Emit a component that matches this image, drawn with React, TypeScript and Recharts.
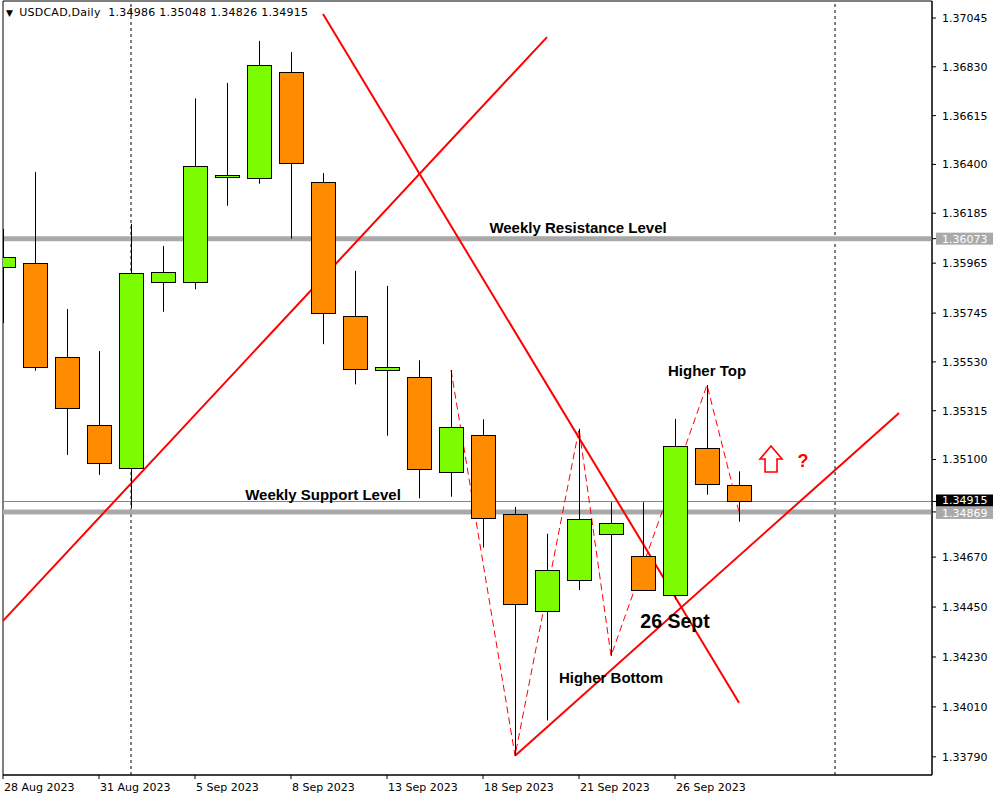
import React from "react";
import {
  Bar,
  ComposedChart,
  Line,
  ReferenceArea,
  ReferenceDot,
  ReferenceLine,
  XAxis,
  YAxis,
} from "recharts";

// USDCAD daily bars, 28 Aug – 28 Sep 2023
const DATES = [
  "28 Aug", "29 Aug", "30 Aug", "31 Aug", "1 Sep", "4 Sep", "5 Sep", "6 Sep",
  "7 Sep", "8 Sep", "11 Sep", "12 Sep", "13 Sep", "14 Sep", "15 Sep", "18 Sep",
  "19 Sep", "20 Sep", "21 Sep", "22 Sep", "25 Sep", "26 Sep", "27 Sep", "28 Sep",
];
const OPEN = [
  1.35947, 1.35964, 1.3555, 1.35251, 1.35061, 1.35881, 1.35881, 1.36343,
  1.36339, 1.36806, 1.36321, 1.35732, 1.35493, 1.35462, 1.35044, 1.35207,
  1.34859, 1.34432, 1.34568, 1.34771, 1.34674, 1.34502, 1.3515, 1.34986,
];
const HIGH = [
  1.36116, 1.36367, 1.35763, 1.35578, 1.36138, 1.36041, 1.36691, 1.36759,
  1.36944, 1.36895, 1.36362, 1.35931, 1.35865, 1.35537, 1.35494, 1.35277,
  1.34891, 1.34773, 1.35235, 1.34912, 1.34912, 1.35279, 1.35428, 1.35048,
];
const LOW = [
  1.35701, 1.35491, 1.3512, 1.35032, 1.34887, 1.35751, 1.3585, 1.36218,
  1.36315, 1.36073, 1.35608, 1.35431, 1.35205, 1.34929, 1.34936, 1.34712,
  1.33795, 1.3395, 1.34525, 1.34235, 1.34521, 1.34484, 1.34945, 1.34826,
];
const CLOSE = [
  1.35991, 1.35506, 1.35326, 1.35083, 1.3592, 1.35927, 1.36392, 1.36352,
  1.36837, 1.36405, 1.35744, 1.35498, 1.35506, 1.35057, 1.35242, 1.34841,
  1.34462, 1.34612, 1.34837, 1.34819, 1.34524, 1.35158, 1.34991, 1.34915,
];

// dashed swing zigzag (bar index -> price)
const ZIG_AT = [14, 16, 18, 19, 22, 23];
const ZIG_PRICE = [1.35494, 1.33795, 1.35235, 1.34235, 1.35428, 1.34869];

// hand-drawn trend lines: [bar index, price] start / end
const TREND_START = [[0, 1.34389], [10, 1.37063], [16, 1.33795]];
const TREND_END = [[17, 1.36961], [23, 1.34028], [28, 1.35305]];

const RESISTANCE = 1.36073;
const SUPPORT = 1.34869;
const LAST = 1.34915;
const SEPARATORS = [4, 26];

const X_TICKS = [0, 3, 6, 9, 12, 15, 18, 21];
const Y_TICKS = [
  1.37045, 1.3683, 1.36615, 1.364, 1.36185, 1.36073, 1.35965, 1.35745, 1.3553,
  1.35315, 1.351, 1.34915, 1.34869, 1.3467, 1.3445, 1.3423, 1.3401, 1.3379,
];
const X_DOMAIN = [0, 29.03];
const Y_DOMAIN = [1.3371, 1.3712];

const GREEN = "#7CFC00";
const ORANGE = "#FF8C00";
const RED = "#FF0000";
const LEVEL = "#A9A9A9";
const AXIS_FONT = "'DejaVu Sans', Verdana, sans-serif";
const NOTE_FONT = "'Liberation Sans', Arial, sans-serif";

const rows = DATES.map((date, i) => {
  const z = ZIG_AT.indexOf(i);
  return {
    i,
    date,
    open: OPEN[i],
    high: HIGH[i],
    low: LOW[i],
    close: CLOSE[i],
    range: [LOW[i], HIGH[i]],
    zig: z >= 0 ? ZIG_PRICE[z] : null,
  };
});

function Candle(props: any) {
  const { x, y, width, height } = props;
  const d = props.payload;
  if (!d || x == null || y == null) return null;
  const top = Math.min(y, y + height);
  const h = Math.abs(height);
  const span = d.high - d.low || 1;
  const py = (p: number) => top + ((d.high - p) / span) * h;
  const cx = Math.round(x + width / 2);
  const yo = py(d.open);
  const yc = py(d.close);
  const bTop = Math.round(Math.min(yo, yc)) + 0.5;
  const bH = Math.max(Math.round(Math.abs(yo - yc)), 2);
  return (
    <g>
      <line x1={cx + 0.5} x2={cx + 0.5} y1={top} y2={top + h} stroke="#000" strokeWidth={1} />
      <rect
        x={cx - 11.5}
        y={bTop}
        width={24}
        height={bH}
        fill={d.close >= d.open ? GREEN : ORANGE}
        stroke="#000"
        strokeWidth={1}
      />
    </g>
  );
}

// price scale labels; level / last-price values get a filled tag
function PriceTick(props: any) {
  const { x, payload } = props;
  const v = payload.value as number;
  const txt = v.toFixed(5);
  let y = props.y;
  let tag: string | null = null;
  if (v === RESISTANCE) tag = LEVEL;
  if (v === SUPPORT) {
    tag = LEVEL;
    y += 1;
  }
  if (v === LAST) {
    tag = "#000";
    y -= 1;
  }
  if (tag) {
    return (
      <g>
        <rect x={x - 6} y={y - 6} width={57} height={12} fill={tag} />
        <text x={x} y={y + 4} fontSize={11} fontFamily={AXIS_FONT} fill="#fff">
          {txt}
        </text>
      </g>
    );
  }
  return (
    <text x={x} y={y + 4} fontSize={11} fontFamily={AXIS_FONT} fill="#000">
      {txt}
    </text>
  );
}

function DateTick(props: any) {
  const { x, y, payload } = props;
  return (
    <text x={x + 1} y={y + 10} fontSize={11} fontFamily={AXIS_FONT} fill="#000">
      {DATES[payload.value] + " 2023"}
    </text>
  );
}

function note(text: string, size = 15, color = "#000") {
  return (p: any) => (
    <text
      x={p.cx}
      y={p.cy}
      textAnchor="middle"
      dominantBaseline="central"
      fontFamily={NOTE_FONT}
      fontWeight="bold"
      fontSize={size}
      fill={color}
    >
      {text}
    </text>
  );
}

function UpArrow(p: any) {
  const { cx, cy } = p;
  const pts = [
    [0, -13], [11, 0], [6, 0], [6, 13], [-6, 13], [-6, 0], [-11, 0],
  ]
    .map(([dx, dy]) => `${cx + dx},${cy + dy}`)
    .join(" ");
  return <polygon points={pts} fill="#fff" stroke={RED} strokeWidth={1.6} />;
}

export default function App() {
  return (
    <div
      style={{
        position: "absolute",
        left: 0,
        top: 0,
        width: 1000,
        height: 800,
        background: "#fff",
      }}
    >
      <ComposedChart
        width={1000}
        height={800}
        data={rows}
        margin={{ top: 1, right: 4, bottom: 3, left: 3 }}
      >
        <XAxis
          dataKey="i"
          type="number"
          domain={X_DOMAIN}
          allowDataOverflow
          ticks={X_TICKS}
          interval={0}
          height={22}
          tickSize={4}
          tickMargin={2}
          axisLine={{ stroke: "#000" }}
          tickLine={{ stroke: "#000" }}
          tick={<DateTick />}
        />
        <YAxis
          orientation="right"
          type="number"
          domain={Y_DOMAIN}
          allowDataOverflow
          ticks={Y_TICKS}
          interval={0}
          width={64}
          tickSize={4}
          tickMargin={6}
          axisLine={{ stroke: "#000" }}
          tickLine={{ stroke: "#000" }}
          tick={<PriceTick />}
        />
        <ReferenceArea
          x1={X_DOMAIN[0]}
          x2={X_DOMAIN[1]}
          y1={Y_DOMAIN[0]}
          y2={Y_DOMAIN[1]}
          fill="none"
          stroke="#000"
          fillOpacity={0}
          zIndex={50}
        />
        {SEPARATORS.map((s) => (
          <ReferenceLine key={"sep" + s} x={s} stroke="#000" strokeDasharray="3 3" zIndex={60} />
        ))}
        <ReferenceLine y={RESISTANCE} stroke={LEVEL} strokeWidth={5} zIndex={70} />
        <ReferenceLine y={SUPPORT} stroke={LEVEL} strokeWidth={5} zIndex={70} />
        <ReferenceLine y={LAST} stroke="#778899" strokeWidth={1} zIndex={80} />
        {TREND_START.map((s, k) => (
          <ReferenceLine
            key={"tr" + k}
            segment={[
              { x: s[0], y: s[1] },
              { x: TREND_END[k][0], y: TREND_END[k][1] },
            ]}
            stroke={RED}
            strokeWidth={2}
            zIndex={90}
          />
        ))}
        <Line
          dataKey="zig"
          connectNulls
          stroke={RED}
          strokeWidth={1}
          strokeDasharray="7 4"
          dot={false}
          activeDot={false}
          isAnimationActive={false}
          zIndex={95}
        />
        <Bar
          dataKey="range"
          shape={<Candle />}
          isAnimationActive={false}
          zIndex={300}
        />
        <ReferenceDot x={17.97} y={1.36124} r={0} shape={note("Weekly Resistance Level")} zIndex={400} />
        <ReferenceDot x={10} y={1.34944} r={0} shape={note("Weekly Support Level")} zIndex={400} />
        <ReferenceDot x={22} y={1.35494} r={0} shape={note("Higher Top")} zIndex={400} />
        <ReferenceDot x={21} y={1.34389} r={0} shape={note("26 Sept", 19.5)} zIndex={400} />
        <ReferenceDot x={19} y={1.34138} r={0} shape={note("Higher Bottom")} zIndex={400} />
        <ReferenceDot x={24} y={1.35102} r={0} shape={UpArrow} zIndex={400} />
        <ReferenceDot x={25} y={1.35094} r={0} shape={note("?", 18, RED)} zIndex={400} />
      </ComposedChart>
      <div
        style={{
          position: "absolute",
          left: 6,
          top: 6,
          fontFamily: AXIS_FONT,
          fontSize: 11,
          letterSpacing: 0.25,
          color: "#000",
          whiteSpace: "pre",
          lineHeight: "14px",
        }}
      >
        <span style={{ fontSize: 9, marginRight: 6 }}>▼</span>
        USDCAD,Daily  1.34986 1.35048 1.34826 1.34915
      </div>
    </div>
  );
}
